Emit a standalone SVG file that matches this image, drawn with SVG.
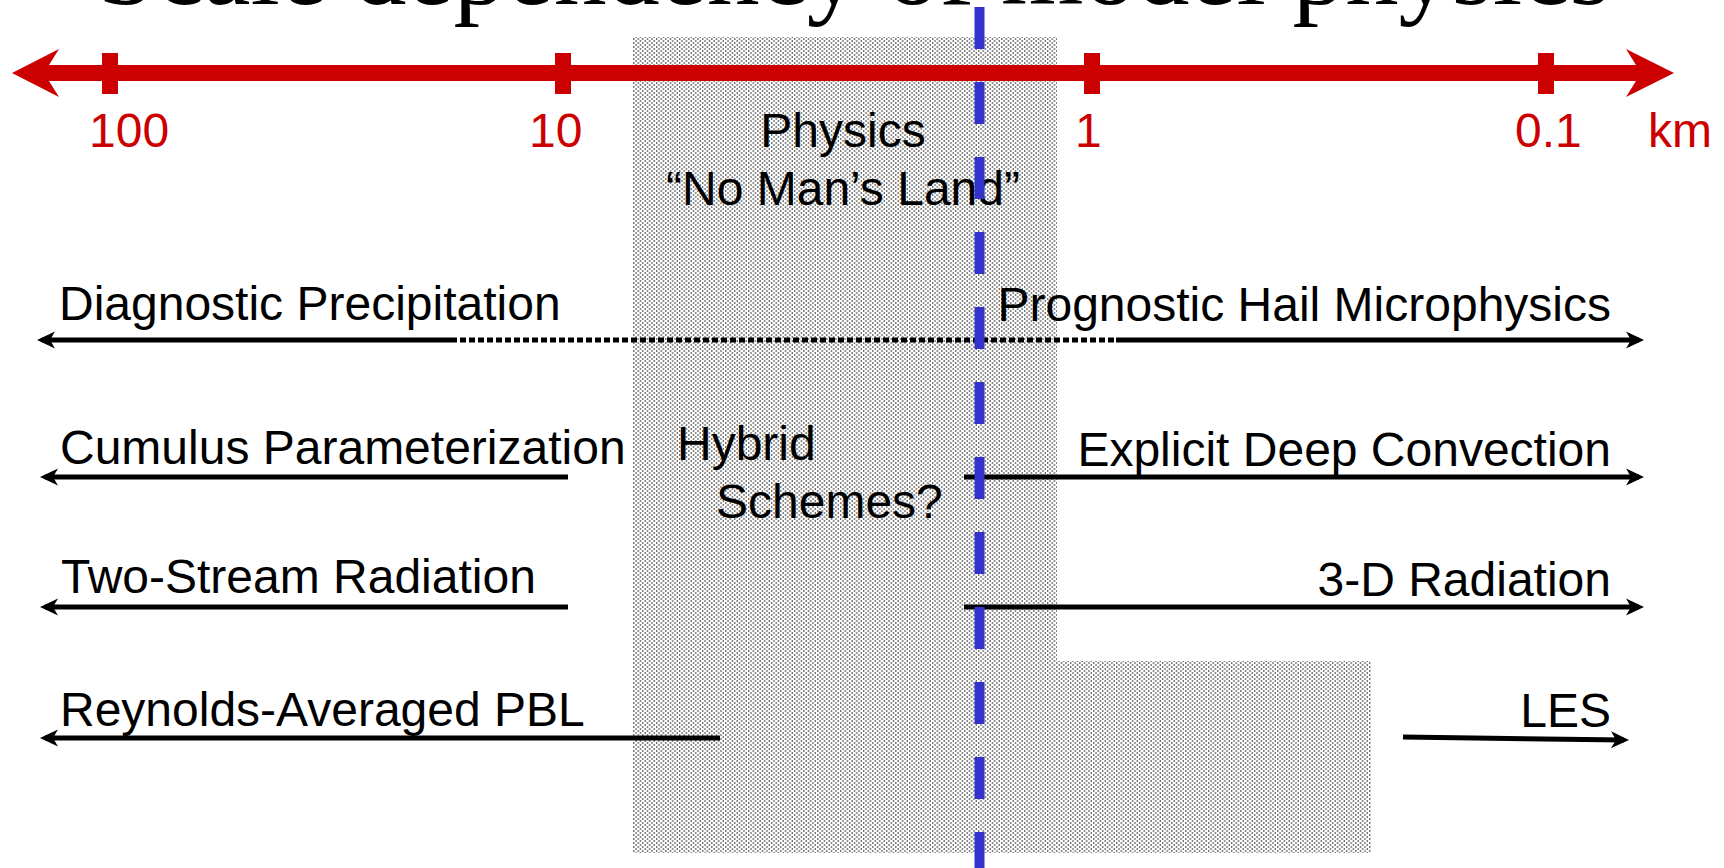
<svg xmlns="http://www.w3.org/2000/svg" width="1724" height="868" viewBox="0 0 1724 868">
<style>
  .lbl { font-family: "Liberation Sans", Arial, sans-serif; font-size: 48px; fill: #000; }
  .red { font-family: "Liberation Sans", Arial, sans-serif; font-size: 48px; fill: #CC0000; }
  .title { font-family: "Liberation Serif", "Times New Roman", serif; font-size: 106px; fill: #000; }
  .conn { stroke: #000; stroke-width: 5; fill: none; }
  .dot { stroke-dasharray: 6 3; }
  .blue { stroke: #3333CC; stroke-width: 10; stroke-dasharray: 42 33; fill: none; }
</style>
<defs>
  <pattern id="stip" width="4.6" height="4" patternUnits="userSpaceOnUse">
    <rect width="4.6" height="4" fill="#fff"/>
    <circle cx="1.15" cy="1" r="0.8" fill="#111"/>
    <circle cx="3.45" cy="3" r="0.8" fill="#111"/>
  </pattern>
  <marker id="ah" viewBox="-20 -10 22 20" refX="-5" refY="0" markerWidth="22" markerHeight="20" markerUnits="userSpaceOnUse" orient="auto">
    <path d="M0,0 L-18,-8.5 L-13,0 L-18,8.5 Z" fill="#000"/>
  </marker>
</defs>

<g id="title">
  <text class="title" x="854" y="4" text-anchor="middle">Scale dependency of model physics</text>
</g>

<g id="no-mans-land">
  <path d="M632,37 H1057 V661 H1371 V853 H632 Z" fill="url(#stip)"/>
</g>

<g id="scale-axis">
  <rect x="44" y="65" width="1597" height="16" fill="#CC0000"/>
  <polygon points="12,73 59,49 44,73 59,97" fill="#CC0000"/>
  <polygon points="1674,73 1626,49 1641,73 1626,97" fill="#CC0000"/>
  <rect x="102" y="53" width="16" height="41" fill="#CC0000"/>
  <rect x="555" y="53" width="16" height="41" fill="#CC0000"/>
  <rect x="1084" y="53" width="16" height="41" fill="#CC0000"/>
  <rect x="1538" y="53" width="16" height="41" fill="#CC0000"/>
  <text class="red" x="89" y="147">100</text>
  <text class="red" x="529" y="147">10</text>
  <text class="red" x="1075" y="147">1</text>
  <text class="red" x="1515" y="147">0.1</text>
  <text class="red" x="1648" y="147">km</text>
</g>

<g id="physics-label">
  <text class="lbl" x="843" y="147" text-anchor="middle">Physics</text>
  <text class="lbl" x="843" y="205" text-anchor="middle">“No Man’s Land”</text>
</g>

<g id="hybrid-label">
  <text class="lbl" x="677" y="460">Hybrid</text>
  <text class="lbl" x="716" y="518">Schemes?</text>
</g>

<g id="diagnostic-precipitation">
  <text class="lbl" x="59" y="320">Diagnostic Precipitation</text>
</g>
<g id="prognostic-hail">
  <text class="lbl" x="1611" y="321" text-anchor="end">Prognostic Hail Microphysics</text>
</g>
<g id="cumulus-parameterization">
  <text class="lbl" x="60" y="464">Cumulus Parameterization</text>
</g>
<g id="explicit-deep-convection">
  <text class="lbl" x="1611" y="466" text-anchor="end">Explicit Deep Convection</text>
</g>
<g id="two-stream-radiation">
  <text class="lbl" x="61" y="593">Two-Stream Radiation</text>
</g>
<g id="three-d-radiation">
  <text class="lbl" x="1611" y="596" text-anchor="end">3-D Radiation</text>
</g>
<g id="reynolds-pbl">
  <text class="lbl" x="60" y="726">Reynolds-Averaged PBL</text>
</g>
<g id="les">
  <text class="lbl" x="1611" y="727" text-anchor="end">LES</text>
</g>

<g id="connectors">
  <line class="conn" x1="451" y1="340" x2="42" y2="340" marker-end="url(#ah)"/>
  <line class="conn dot" x1="451" y1="340" x2="1114" y2="340"/>
  <line class="conn" x1="1116" y1="340" x2="1639" y2="340" marker-end="url(#ah)"/>
  <line class="conn" x1="568" y1="477" x2="45" y2="477" marker-end="url(#ah)"/>
  <line class="conn" x1="964" y1="477" x2="1639" y2="477" marker-end="url(#ah)"/>
  <line class="conn" x1="568" y1="607" x2="45" y2="607" marker-end="url(#ah)"/>
  <line class="conn" x1="964" y1="607" x2="1639" y2="607" marker-end="url(#ah)"/>
  <line class="conn" x1="720" y1="738" x2="45" y2="738" marker-end="url(#ah)"/>
  <line class="conn" x1="1403" y1="737" x2="1624" y2="740" marker-end="url(#ah)"/>
</g>

<g id="grid-boundary">
  <line class="blue" x1="979.5" y1="7" x2="979.5" y2="868"/>
</g>
</svg>
